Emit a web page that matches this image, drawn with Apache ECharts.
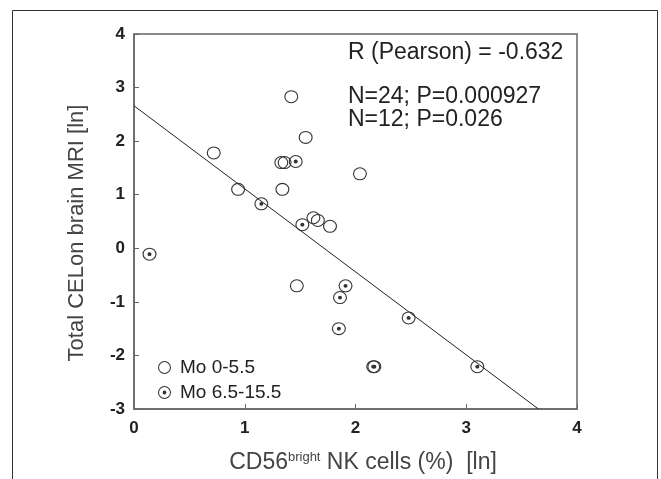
<!DOCTYPE html>
<html>
<head>
<meta charset="utf-8">
<script src="https://cdn.jsdelivr.net/npm/echarts@6/dist/echarts.min.js"></script>
<style>
  html, body { margin: 0; padding: 0; background: #ffffff; }
  #chart { width: 661px; height: 479px; }
</style>
</head>
<body>
<div id="chart"></div>
<script>
// 组别 Mo 0-5.5（空心圆）
const openX = [1.42, 1.55, 0.72, 1.33, 1.36, 2.04, 0.94, 1.34, 1.62, 1.66, 1.77, 1.47];
const openY = [2.83, 2.07, 1.78, 1.60, 1.60, 1.39, 1.10, 1.10, 0.57, 0.52, 0.41, -0.70];
// 组别 Mo 6.5-15.5（带点圆）
const dotX = [1.46, 1.15, 1.52, 0.14, 1.91, 1.86, 2.48, 1.85, 2.16, 2.17, 3.10];
const dotY = [1.62, 0.83, 0.44, -0.11, -0.70, -0.92, -1.30, -1.50, -2.21, -2.21, -2.21];

// 回归线
const fitIntercept = 2.66;
const fitSlope = -1.55;

const xTicks = [0, 1, 2, 3, 4];
const yTicks = [-3, -2, -1, 0, 1, 2, 3, 4];

const seriesNames = ['Mo 0-5.5', 'Mo 6.5-15.5'];
const statLines = ['R (Pearson) = -0.632', 'N=24; P=0.000927', 'N=12; P=0.026'];

// 圆环 / 带点圆环 符号
const ringPath = 'path://M0,-10 A10,10 0 1,1 0,10 A10,10 0 1,1 0,-10 Z M0,-8.4 A8.4,8.4 0 1,0 0,8.4 A8.4,8.4 0 1,0 0,-8.4 Z';
const dotRingPath = ringPath + ' M0,-2.9 A2.9,2.9 0 1,1 0,2.9 A2.9,2.9 0 1,1 0,-2.9 Z';

const pairs = (xs, ys) => xs.map((x, i) => [x, ys[i]]);

const yMin = yTicks[0];
const xEnd = (yMin - fitIntercept) / fitSlope;
const fitLine = [[xTicks[0], fitIntercept], [xEnd, fitSlope * xEnd + fitIntercept]];

const font = 'Liberation Sans, Arial, sans-serif';

const chart = echarts.init(document.getElementById('chart'));

const option = {
  backgroundColor: '#ffffff',
  animation: false,
  grid: { left: 134, top: 34, right: 84, bottom: 70, containLabel: false },
  xAxis: {
    type: 'value',
    min: xTicks[0],
    max: xTicks[xTicks.length - 1],
    interval: 1,
    axisLine: { show: true, onZero: false, lineStyle: { color: '#666', width: 1.5 } },
    axisTick: { show: true, inside: true, length: 5, lineStyle: { color: '#666' } },
    axisLabel: { color: '#222', fontSize: 17, fontWeight: 'bold', margin: 11, fontFamily: font },
    splitLine: { show: false }
  },
  yAxis: {
    type: 'value',
    min: yMin,
    max: yTicks[yTicks.length - 1],
    interval: 1,
    axisLine: { show: true, onZero: false, lineStyle: { color: '#666', width: 1.5 } },
    axisTick: { show: true, inside: true, length: 5, lineStyle: { color: '#666' } },
    axisLabel: { color: '#222', fontSize: 17, fontWeight: 'bold', margin: 9, fontFamily: font },
    splitLine: { show: false }
  },
  legend: {
    orient: 'vertical',
    left: 153,
    top: 353,
    itemWidth: 13,
    itemHeight: 13,
    itemGap: 6,
    textStyle: { color: '#222', fontSize: 19, fontFamily: font, padding: [0, 0, 0, 4] },
    data: [
      { name: seriesNames[0], icon: ringPath },
      { name: seriesNames[1], icon: dotRingPath }
    ]
  },
  series: [
    {
      name: 'fit',
      type: 'line',
      data: fitLine,
      symbol: 'none',
      silent: true,
      lineStyle: { color: '#222', width: 1 },
      z: 1
    },
    {
      name: seriesNames[0],
      type: 'scatter',
      symbol: ringPath,
      symbolSize: [14, 13],
      itemStyle: { color: '#333', opacity: 1 },
      data: pairs(openX, openY),
      z: 3
    },
    {
      name: seriesNames[1],
      type: 'scatter',
      symbol: dotRingPath,
      symbolSize: [14, 13],
      itemStyle: { color: '#333', opacity: 1 },
      data: pairs(dotX, dotY),
      z: 3
    }
  ],
  graphic: [
    // 外框
    {
      type: 'rect',
      shape: { x: 12.5, y: 10.5, width: 645, height: 480 },
      style: { fill: null, stroke: '#333', lineWidth: 1 },
      silent: true
    },
    // 绘图区框
    {
      type: 'rect',
      shape: { x: 134, y: 34, width: 443, height: 375 },
      style: { fill: null, stroke: '#666', lineWidth: 1.5 },
      silent: true
    },
    {
      type: 'text', left: 348, top: 41,
      style: { text: statLines[0], fill: '#222', fontSize: 23, fontFamily: font }
    },
    {
      type: 'text', left: 348, top: 85,
      style: { text: statLines[1], fill: '#222', fontSize: 23, fontFamily: font }
    },
    {
      type: 'text', left: 348, top: 108,
      style: { text: statLines[2], fill: '#222', fontSize: 23, fontFamily: font }
    },
    {
      type: 'text',
      x: 77, y: 233,
      rotation: Math.PI / 2,
      style: {
        text: 'Total CELon brain MRI [ln]',
        fill: '#444', fontSize: 22, fontFamily: font,
        align: 'center', verticalAlign: 'middle'
      }
    },
    {
      type: 'text',
      x: 363, y: 463,
      style: {
        text: '{b|CD56}{s|bright}{b| NK cells (%)  [ln]}',
        align: 'center', verticalAlign: 'middle',
        rich: {
          b: { fill: '#444', fontSize: 23, fontFamily: font },
          s: { fill: '#444', fontSize: 13, fontFamily: font, verticalAlign: 'top', padding: [0, 0, 12, 0] }
        }
      }
    }
  ]
};

chart.setOption(option);
window.addEventListener('resize', () => chart.resize());
</script>
</body>
</html>
